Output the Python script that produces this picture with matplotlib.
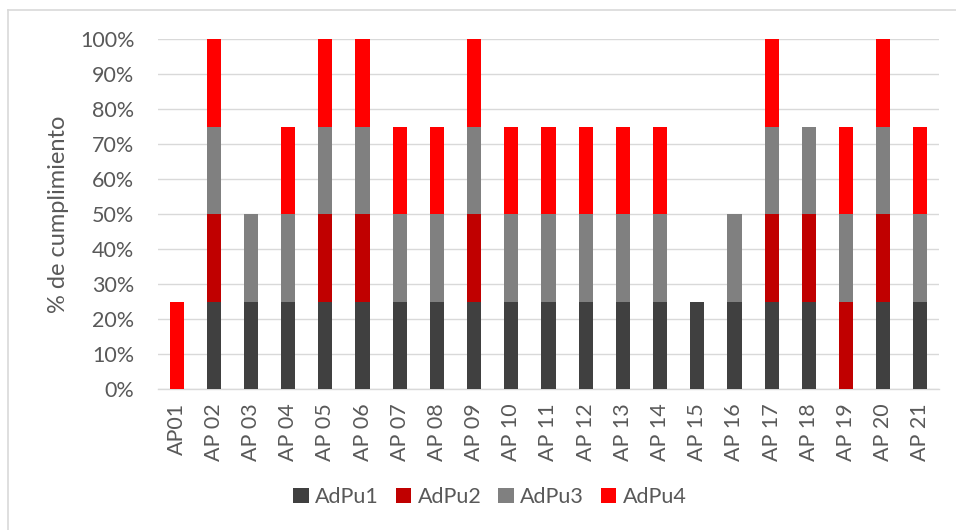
import matplotlib.pyplot as plt
import numpy as np
from matplotlib.lines import Line2D

categories = ["AP01", "AP 02", "AP 03", "AP 04", "AP 05", "AP 06", "AP 07",
              "AP 08", "AP 09", "AP 10", "AP 11", "AP 12", "AP 13", "AP 14",
              "AP 15", "AP 16", "AP 17", "AP 18", "AP 19", "AP 20", "AP 21"]
adpu1 = [0, 25, 25, 25, 25, 25, 25, 25, 25, 25, 25, 25, 25, 25, 25, 25, 25, 25, 0, 25, 25]
adpu2 = [0, 25, 0, 0, 25, 25, 0, 0, 25, 0, 0, 0, 0, 0, 0, 0, 25, 25, 25, 25, 0]
adpu3 = [0, 25, 25, 25, 25, 25, 25, 25, 25, 25, 25, 25, 25, 25, 0, 25, 25, 25, 25, 25, 25]
adpu4 = [25, 25, 0, 25, 25, 25, 25, 25, 25, 25, 25, 25, 25, 25, 0, 0, 25, 0, 25, 25, 25]

series = [("AdPu1", adpu1, "#404040"), ("AdPu2", adpu2, "#c00000"),
          ("AdPu3", adpu3, "#808080"), ("AdPu4", adpu4, "#ff0000")]

txt = "#595959"
plt.rcParams['font.family'] = ['Lato', 'DejaVu Sans']

fig = plt.figure(figsize=(9.56, 5.3), dpi=100)
ax = fig.add_axes([158/956, 1 - 389/530, (939 - 158)/956, 350/530])

x = np.arange(len(categories))
bottom = np.zeros(len(categories))
for name, vals, col in series:
    v = np.array(vals) / 100.0
    ax.bar(x, v, 0.38, bottom=bottom, color=col, label=name, zorder=3)
    bottom += v

ax.set_xlim(-0.5, len(categories) - 0.5)
ax.set_ylim(0, 1.0)
ax.set_yticks(np.arange(0, 1.01, 0.1))
ax.set_yticklabels([f"{int(round(t*100))}%" for t in np.arange(0, 1.01, 0.1)])
ax.set_xticks(x)
ax.set_xticklabels(categories, rotation=90)
ax.tick_params(length=0, labelsize=15.5, colors=txt)
ax.tick_params(axis='x', pad=10)
ax.tick_params(axis='y', pad=17)
ax.grid(axis='y', color="#d9d9d9", linewidth=1, zorder=0)
for s in ["top", "right", "left"]:
    ax.spines[s].set_visible(False)
ax.spines["bottom"].set_color("#d9d9d9")
ax.spines["bottom"].set_linewidth(1)
ax.set_ylabel("% de cumplimiento", fontsize=17, color=txt, labelpad=8)

fig.legend(loc="center", bbox_to_anchor=(490/956, 1 - 497/530), ncol=4,
           frameon=False, fontsize=15.5, handlelength=0.7, handleheight=0.7,
           handletextpad=0.3, columnspacing=0.8, labelcolor=txt)

# outer chart border (left and top visible)
fig.add_artist(Line2D([8/956, 8/956], [0, 1 - 10/530], color="#d9d9d9", lw=1.2))
fig.add_artist(Line2D([8/956, 1], [1 - 10/530, 1 - 10/530], color="#d9d9d9", lw=1.2))

fig.savefig("out.png", dpi=100)
